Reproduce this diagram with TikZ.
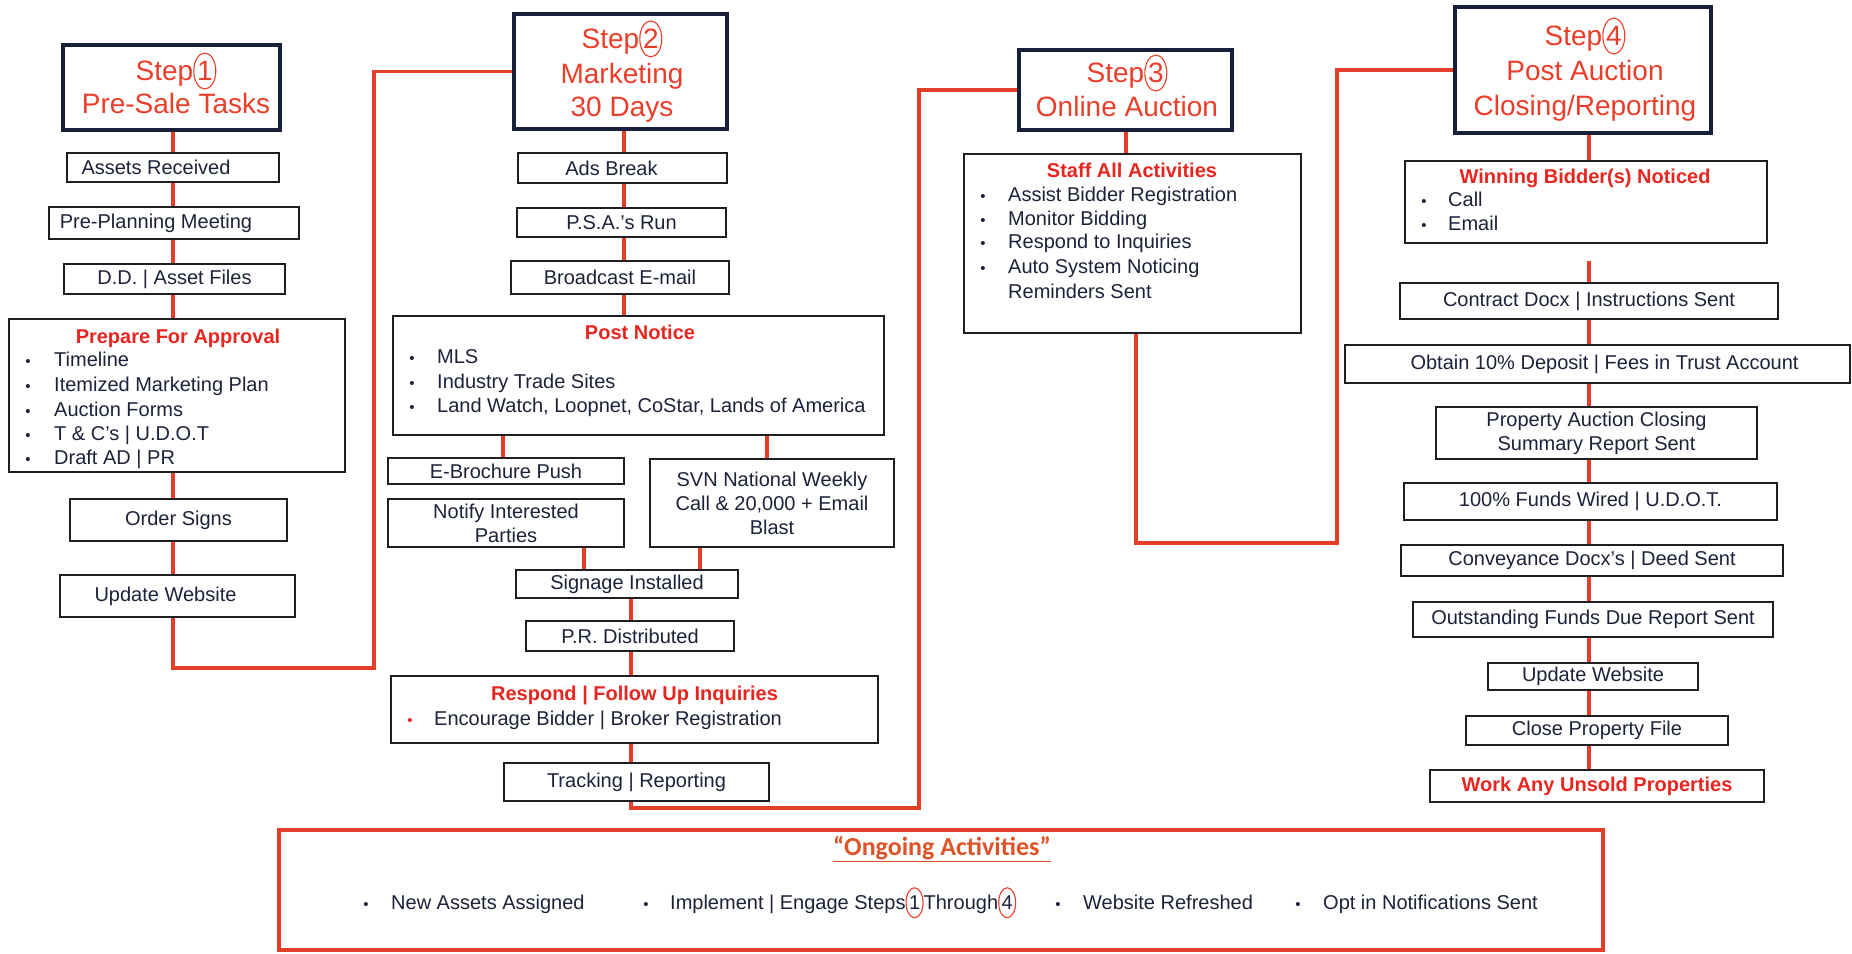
\documentclass[tikz,border=0pt]{standalone}
\usepackage{fontspec}
\setmainfont{Liberation Sans}
\newfontfamily\calfont{Carlito}
\usetikzlibrary{shapes.geometric}
\definecolor{txt}{RGB}{28,34,58}
\definecolor{stepred}{RGB}{235,62,42}
\definecolor{hdrred}{RGB}{232,38,32}
\definecolor{conred}{RGB}{226,62,40}
\definecolor{boxc}{RGB}{30,30,34}
\definecolor{navy}{RGB}{22,32,58}
\definecolor{ongo}{RGB}{222,84,40}
\newcommand{\bodyf}{\fontsize{20}{24}\selectfont}
\newcommand{\stepf}{\fontsize{28}{34}\selectfont}
\newcommand{\hdrf}{\bfseries\fontsize{20}{24}\selectfont}
\newcommand{\bulf}{\fontsize{15}{16}\selectfont}
\newcommand{\cnum}[4]{\tikz[baseline=0pt]\node[ellipse,draw=#2,line width=1.1pt,inner sep=0pt,minimum width=#3,minimum height=#4,anchor=base,fill=none]{#1};}
\tikzset{
  box/.style={draw=boxc,line width=1.8pt,fill=white,inner sep=0pt,text=txt,font=\bodyf,align=center},
  stepbox/.style={draw=navy,line width=4pt,fill=white,inner sep=0pt},
  conn/.style={draw=conred,line width=3.2pt},
  steptxt/.style={inner sep=0pt,text=stepred,font=\stepf,anchor=mid,yshift=-6pt},
  ttl/.style={inner sep=0pt,text=hdrred,font=\hdrf,anchor=mid},
  lbl/.style={inner sep=0pt,text=txt,font=\bodyf,anchor=mid west},
  bul/.style={inner sep=0pt,text=txt,font=\bulf,anchor=mid},
}
\begin{document}
\begin{tikzpicture}[x=1pt,y=-1pt]
\useasboundingbox[fill=white] (0,0) rectangle (1852,953);
% ---------- Step 1 ----------
\node[stepbox,minimum width=217pt,minimum height=85pt] (s1) at (171.5,87.5) {};
\node[steptxt] (s1a) at (176,72) {Step\cnum{1}{stepred}{22pt}{36pt}};
\node[steptxt] (s1b) at (176,105) {Pre-Sale Tasks};
\node[box,minimum width=212pt,minimum height=29pt] (assets) at (173,167.5) {Assets Received\hspace*{34pt}};
\node[box,minimum width=250pt,minimum height=32pt] (preplan) at (174,223) {Pre-Planning Meeting\hspace*{36pt}};
\node[box,minimum width=221pt,minimum height=30pt] (dd) at (174.5,279) {D.D. | Asset Files};
\node[box,minimum width=336pt,minimum height=153pt] (prep) at (177,395.5) {};
\node[ttl] (prepT) at (178,341) {Prepare For Approval};
\node[bul] (pb1) at (28,364) {•}; \node[lbl] (pl1) at (54,364) {Timeline};
\node[bul] (pb2) at (28,389) {•}; \node[lbl] (pl2) at (54,389) {Itemized Marketing Plan};
\node[bul] (pb3) at (28,414) {•}; \node[lbl] (pl3) at (54,414) {Auction Forms};
\node[bul] (pb4) at (28,438) {•}; \node[lbl] (pl4) at (54,438) {T \& C's | U.D.O.T};
\node[bul] (pb5) at (28,462) {•}; \node[lbl] (pl5) at (54,462) {Draft AD | PR};
\node[box,minimum width=217pt,minimum height=42pt] (order) at (178.5,520) {Order Signs};
\node[box,minimum width=235pt,minimum height=42pt] (updl) at (177.5,596) {Update Website\hspace*{24pt}};
% ---------- Step 2 ----------
\node[stepbox,minimum width=213pt,minimum height=115pt] (s2) at (620.5,71.5) {};
\node[steptxt] (s2a) at (622,40) {Step\cnum{2}{stepred}{22pt}{36pt}};
\node[steptxt] (s2b) at (622,75) {Marketing};
\node[steptxt] (s2c) at (622,108) {30 Days};
\node[box,minimum width=209pt,minimum height=30pt] (ads) at (622.5,168) {Ads Break\hspace*{22pt}};
\node[box,minimum width=209pt,minimum height=29pt] (psa) at (621.5,222.5) {P.S.A.'s Run};
\node[box,minimum width=218pt,minimum height=33pt] (bcast) at (620,277.5) {Broadcast E-mail};
\node[box,minimum width=491pt,minimum height=119pt] (post) at (638.5,375.5) {};
\node[ttl] (postT) at (640,337) {Post Notice};
\node[bul] (nb1) at (412,361) {•}; \node[lbl] (nl1) at (437,361) {MLS};
\node[bul] (nb2) at (412,386) {•}; \node[lbl] (nl2) at (437,386) {Industry Trade Sites};
\node[bul] (nb3) at (412,410) {•}; \node[lbl] (nl3) at (437,410) {Land Watch, Loopnet, CoStar, Lands of America};
\node[box,minimum width=236pt,minimum height=26pt] (ebro) at (506,471) {E-Brochure Push};
\node[box,minimum width=236pt,minimum height=48pt] (notify) at (506,523) {Notify Interested\\Parties};
\node[box,minimum width=244pt,minimum height=88pt] (svn) at (772,503) {SVN National Weekly\\Call \& 20,000 + Email\\Blast};
\node[box,minimum width=222pt,minimum height=28pt] (sign) at (627,584) {Signage Installed};
\node[box,minimum width=208pt,minimum height=30pt] (pr) at (630,636) {P.R. Distributed};
\node[box,minimum width=487pt,minimum height=67pt] (resp) at (634.5,709.5) {};
\node[ttl] (respT) at (634.5,698) {Respond | Follow Up Inquiries};
\node[bul,text=hdrred] (rb1) at (410,723) {•}; \node[lbl] (rl1) at (434,723) {Encourage Bidder | Broker Registration};
\node[box,minimum width=265pt,minimum height=38pt] (track) at (636.5,782) {Tracking | Reporting};
% ---------- Step 3 ----------
\node[stepbox,minimum width=213pt,minimum height=80pt] (s3) at (1125.5,90) {};
\node[steptxt] (s3a) at (1127,74) {Step\cnum{3}{stepred}{22pt}{36pt}};
\node[steptxt] (s3b) at (1127,108) {Online Auction};
\node[box,minimum width=337pt,minimum height=179pt] (staff) at (1132.5,243.5) {};
\node[ttl] (staffT) at (1132,175) {Staff All Activities};
\node[bul] (sb1) at (983,199) {•}; \node[lbl] (sl1) at (1008,199) {Assist Bidder Registration};
\node[bul] (sb2) at (983,223) {•}; \node[lbl] (sl2) at (1008,223) {Monitor Bidding};
\node[bul] (sb3) at (983,246) {•}; \node[lbl] (sl3) at (1008,246) {Respond to Inquiries};
\node[bul] (sb4) at (983,271) {•}; \node[lbl] (sl4) at (1008,271) {Auto System Noticing};
\node[lbl] (sl5) at (1008,296) {Reminders Sent};
% ---------- Step 4 ----------
\node[stepbox,minimum width=256pt,minimum height=126pt] (s4) at (1583,70) {};
\node[steptxt] (s4a) at (1585,37) {Step\cnum{4}{stepred}{22pt}{36pt}};
\node[steptxt] (s4b) at (1585,72) {Post Auction};
\node[steptxt] (s4c) at (1585,107) {Closing/Reporting};
\node[box,minimum width=362pt,minimum height=82pt] (win) at (1586,202) {};
\node[ttl] (winT) at (1585,181) {Winning Bidder(s) Noticed};
\node[bul] (wb1) at (1424,204) {•}; \node[lbl] (wl1) at (1448,204) {Call};
\node[bul] (wb2) at (1424,228) {•}; \node[lbl] (wl2) at (1448,228) {Email};
\node[box,minimum width=378pt,minimum height=36pt] (contract) at (1589,301) {Contract Docx | Instructions Sent};
\node[box,minimum width=505pt,minimum height=38pt] (obtain) at (1597.5,364) {\hspace*{14pt}Obtain 10\% Deposit | Fees in Trust Account};
\node[box,minimum width=321pt,minimum height=52pt] (prop) at (1596.5,433) {Property Auction Closing\\Summary Report Sent};
\node[box,minimum width=373pt,minimum height=37pt] (funds) at (1590.5,501.5) {100\% Funds Wired | U.D.O.T.};
\node[box,minimum width=382pt,minimum height=31pt] (convey) at (1592,560.5) {Conveyance Docx's | Deed Sent};
\node[box,minimum width=360pt,minimum height=35pt] (outst) at (1593,619.5) {Outstanding Funds Due Report Sent};
\node[box,minimum width=210pt,minimum height=27pt] (updr) at (1593,676.5) {Update Website};
\node[box,minimum width=262pt,minimum height=29pt] (close) at (1597,730.5) {Close Property File};
\node[box,minimum width=334pt,minimum height=32pt,text=hdrred,font=\hdrf] (work) at (1597,786) {Work Any Unsold Properties};
% ---------- Ongoing ----------
\node[draw=conred,line width=3.2pt,fill=white,minimum width=1324pt,minimum height=120pt,inner sep=0pt] (ongo) at (941,890) {};
\node[inner sep=0pt,text=ongo,anchor=mid,font=\calfont\bfseries\fontsize{26}{30}\selectfont] (ongoT) at (942,853) {\underline{“Ongoing Activities”}};
\node[bul] (ob1) at (366,907) {•}; \node[lbl] (ol1) at (391,907) {New Assets Assigned};
\node[bul] (ob2) at (646,907) {•}; \node[lbl] (ol2) at (670,907) {Implement | Engage Steps\cnum{1}{stepred}{17pt}{30pt}Through\cnum{4}{stepred}{17pt}{30pt}};
\node[bul] (ob3) at (1058,907) {•}; \node[lbl] (ol3) at (1083,907) {Website Refreshed};
\node[bul] (ob4) at (1298,907) {•}; \node[lbl] (ol4) at (1323,907) {Opt in Notifications Sent};
% ---------- connectors ----------
\coordinate (c1) at (173,0);
\coordinate (c2) at (624,0);
\coordinate (c2a) at (503,0);
\coordinate (c2b) at (767,0);
\coordinate (c2c) at (584,0);
\coordinate (c2d) at (700,0);
\coordinate (c2e) at (631,0);
\coordinate (c3) at (1126,0);
\coordinate (c3b) at (1136,0);
\coordinate (c4) at (1589,0);
\coordinate (j1) at (374,668);
\coordinate (j2) at (919,808);
\coordinate (j3) at (1337,543);
\draw[conn] (s1.south -| c1) -- (assets.north -| c1);
\draw[conn] (assets.south -| c1) -- (preplan.north -| c1);
\draw[conn] (preplan.south -| c1) -- (dd.north -| c1);
\draw[conn] (dd.south -| c1) -- (prep.north -| c1);
\draw[conn] (prep.south -| c1) -- (order.north -| c1);
\draw[conn] (order.south -| c1) -- (updl.north -| c1);
\draw[conn] (updl.south -| c1) |- (j1) |- (s2.west);
\draw[conn] (s2.south -| c2) -- (ads.north -| c2);
\draw[conn] (ads.south -| c2) -- (psa.north -| c2);
\draw[conn] (psa.south -| c2) -- (bcast.north -| c2);
\draw[conn] (bcast.south -| c2) -- (post.north -| c2);
\draw[conn] (post.south -| c2a) -- (ebro.north -| c2a);
\draw[conn] (post.south -| c2b) -- (svn.north -| c2b);
\draw[conn] (notify.south -| c2c) -- (sign.north -| c2c);
\draw[conn] (svn.south -| c2d) -- (sign.north -| c2d);
\draw[conn] (sign.south -| c2e) -- (pr.north -| c2e);
\draw[conn] (pr.south -| c2e) -- (resp.north -| c2e);
\draw[conn] (resp.south -| c2e) -- (track.north -| c2e);
\draw[conn] (track.south -| c2e) |- (j2) |- (s3.west);
\draw[conn] (s3.south -| c3) -- (staff.north -| c3);
\draw[conn] (staff.south -| c3b) |- (j3) |- (s4.west);
\draw[conn] (s4.south -| c4) -- (win.north -| c4);
\draw[conn,shorten <=17pt] (win.south -| c4) -- (contract.north -| c4);
\draw[conn] (contract.south -| c4) -- (obtain.north -| c4);
\draw[conn] (obtain.south -| c4) -- (prop.north -| c4);
\draw[conn] (prop.south -| c4) -- (funds.north -| c4);
\draw[conn] (funds.south -| c4) -- (convey.north -| c4);
\draw[conn] (convey.south -| c4) -- (outst.north -| c4);
\draw[conn] (outst.south -| c4) -- (updr.north -| c4);
\draw[conn] (updr.south -| c4) -- (close.north -| c4);
\draw[conn] (close.south -| c4) -- (work.north -| c4);
\end{tikzpicture}
\end{document}
